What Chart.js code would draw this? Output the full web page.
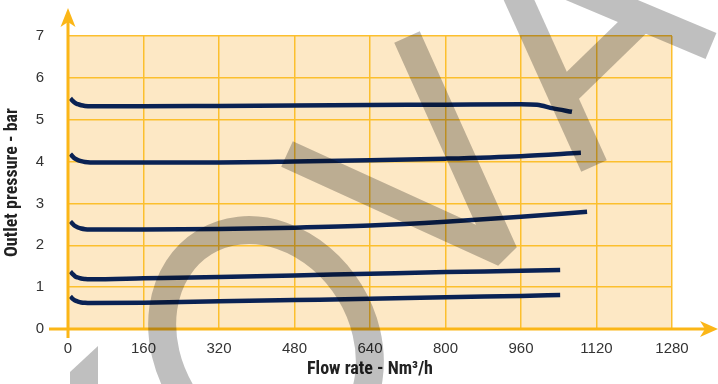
<!DOCTYPE html>
<html>
<head>
<meta charset="utf-8">
<script src="https://cdn.jsdelivr.net/npm/chart.js@4"></script>
<style>
  html, body { margin: 0; padding: 0; background: #fff; }
  #wrap { width: 718px; height: 384px; }
</style>
</head>
<body>
<div id="wrap"><canvas id="chart" width="718" height="384"></canvas></div>
<script>
// flow rate (Nm3/h) and outlet pressure (bar) for each curve
const flow55 = [5, 10, 15, 21, 28, 36, 47, 160, 320, 480, 640, 800, 960, 994, 1028, 1068];
const press55 = [5.51, 5.45, 5.40, 5.37, 5.345, 5.33, 5.32, 5.32, 5.33, 5.34, 5.35, 5.36, 5.37, 5.355, 5.27, 5.19];

const flow42 = [5, 10, 15, 21, 28, 36, 47, 160, 320, 480, 640, 800, 960, 1087];
const press42 = [4.18, 4.12, 4.07, 4.035, 4.01, 3.99, 3.98, 3.98, 3.98, 4.00, 4.03, 4.07, 4.13, 4.21];

const flow26 = [5, 10, 15, 21, 28, 36, 47, 160, 320, 480, 640, 800, 960, 1100];
const press26 = [2.57, 2.51, 2.46, 2.425, 2.40, 2.385, 2.38, 2.38, 2.39, 2.42, 2.47, 2.56, 2.68, 2.80];

const flow14 = [5, 10, 15, 21, 28, 36, 47, 160, 320, 480, 640, 800, 960, 1043];
const press14 = [1.37, 1.31, 1.26, 1.23, 1.205, 1.195, 1.19, 1.21, 1.24, 1.28, 1.32, 1.36, 1.39, 1.41];

const flow08 = [5, 10, 15, 21, 28, 36, 47, 160, 320, 480, 640, 800, 960, 1043];
const press08 = [0.78, 0.72, 0.68, 0.655, 0.635, 0.625, 0.62, 0.63, 0.66, 0.69, 0.72, 0.76, 0.79, 0.81];

const xTicks = [0, 160, 320, 480, 640, 800, 960, 1120, 1280];
const yTicks = [0, 1, 2, 3, 4, 5, 6, 7];

const ORANGE = "#fbb617";
const GRID = "#fcbf2e";
const NAVY = "#0a2254";

const toPoints = (xs, ys) => xs.map((x, i) => ({ x: x, y: ys[i] }));

// plot background
const areaFill = {
  id: "areaFill",
  beforeDraw(chart) {
    const { ctx, chartArea: a } = chart;
    ctx.save();
    ctx.fillStyle = "#fde8c5";
    ctx.fillRect(a.left, a.top, a.right - a.left, a.bottom - a.top);
    ctx.restore();
  },
};

// thick axes with arrow heads
const arrowAxes = {
  id: "arrowAxes",
  afterDatasetsDraw(chart) {
    const { ctx, chartArea: a } = chart;
    const x0 = chart.scales.x.getPixelForValue(0);
    const y0 = chart.scales.y.getPixelForValue(0);
    ctx.save();
    ctx.strokeStyle = ORANGE;
    ctx.fillStyle = ORANGE;
    ctx.lineWidth = 3;
    ctx.beginPath();
    ctx.moveTo(a.left - 19, y0);
    ctx.lineTo(a.right + 38, y0);
    ctx.moveTo(x0, a.bottom + 9);
    ctx.lineTo(x0, a.top - 16);
    ctx.stroke();
    // x arrow
    const tx = a.right + 46;
    ctx.beginPath();
    ctx.moveTo(tx, y0);
    ctx.lineTo(tx - 18, y0 - 8);
    ctx.lineTo(tx - 13, y0);
    ctx.lineTo(tx - 18, y0 + 8);
    ctx.closePath();
    ctx.fill();
    // y arrow
    const ty = a.top - 28;
    ctx.beginPath();
    ctx.moveTo(x0, ty);
    ctx.lineTo(x0 - 7.5, ty + 19);
    ctx.lineTo(x0, ty + 14);
    ctx.lineTo(x0 + 7.5, ty + 19);
    ctx.closePath();
    ctx.fill();
    ctx.restore();
  },
};

// grey watermark lettering laid over the chart
const watermark = {
  id: "watermark",
  afterDraw(chart) {
    const { ctx } = chart;
    const off = document.createElement("canvas");
    off.width = chart.width;
    off.height = chart.height;
    const o = off.getContext("2d");
    o.fillStyle = "#000";
    o.strokeStyle = "#000";
    o.lineWidth = 28;
    o.lineCap = "butt";
    o.lineJoin = "bevel";

    o.beginPath();
    o.moveTo(98, 346);
    o.lineTo(98, 384);
    o.lineTo(70, 384);
    o.lineTo(70, 372);
    o.closePath();
    o.fill();

    o.beginPath();
    o.ellipse(266, 343, 98, 118, -0.55, 0, Math.PI * 2);
    o.stroke();

    o.beginPath();
    o.moveTo(287, 154);
    o.lineTo(504, 253);
    o.lineTo(407, 37);
    o.stroke();

    o.beginPath();
    o.moveTo(510, -20);
    o.lineTo(594, 166);
    o.stroke();

    o.beginPath();
    o.moveTo(566, 92);
    o.lineTo(640, 20);
    o.stroke();

    o.beginPath();
    o.moveTo(540, -26);
    o.lineTo(711, 46);
    o.stroke();

    ctx.save();
    ctx.globalAlpha = 0.25;
    ctx.drawImage(off, 0, 0);
    ctx.restore();
  },
};

const curve = (xs, ys) => ({
  data: toPoints(xs, ys),
  borderColor: NAVY,
  borderWidth: 4.5,
  pointRadius: 0,
  fill: false,
  cubicInterpolationMode: "monotone",
});

new Chart(document.getElementById("chart"), {
  type: "line",
  data: {
    datasets: [
      curve(flow55, press55),
      curve(flow42, press42),
      curve(flow26, press26),
      curve(flow14, press14),
      curve(flow08, press08),
    ],
  },
  options: {
    responsive: false,
    animation: false,
    devicePixelRatio: 1,
    layout: { padding: { top: 36, right: 46, left: 0, bottom: 0 } },
    plugins: { legend: { display: false }, tooltip: { enabled: false } },
    scales: {
      x: {
        type: "linear",
        min: 0,
        max: 1280,
        afterBuildTicks: (s) => { s.ticks = xTicks.map((v) => ({ value: v })); },
        afterFit: (s) => { s.height = 55; },
        ticks: {
          padding: 11,
          color: "#333",
          maxRotation: 0,
          callback: (v) => String(v),
          font: { family: "'Liberation Sans', Arial, sans-serif", size: 15 },
        },
        grid: { color: GRID, lineWidth: 1.5, drawTicks: false },
        border: { display: false },
        title: {
          display: true,
          text: "Flow rate - Nm³/h",
          color: "#222",
          padding: { top: 0, bottom: 4 },
          font: { family: "'Liberation Sans Narrow', 'Roboto Condensed', Arial, sans-serif", size: 18, weight: "bold" },
        },
      },
      y: {
        min: 0,
        max: 7,
        afterBuildTicks: (s) => { s.ticks = yTicks.map((v) => ({ value: v })); },
        afterFit: (s) => { s.width = 68; },
        ticks: {
          padding: 24,
          color: "#333",
          callback: (v) => String(v),
          font: { family: "'Liberation Sans', Arial, sans-serif", size: 15 },
        },
        grid: { color: GRID, lineWidth: 1.5, drawTicks: false },
        border: { display: false },
        title: {
          display: true,
          text: "Outlet pressure - bar",
          color: "#222",
          padding: { top: 2, bottom: 0 },
          font: { family: "'Liberation Sans Narrow', 'Roboto Condensed', Arial, sans-serif", size: 18, weight: "bold" },
        },
      },
    },
  },
  plugins: [areaFill, arrowAxes, watermark],
});
</script>
</body>
</html>
